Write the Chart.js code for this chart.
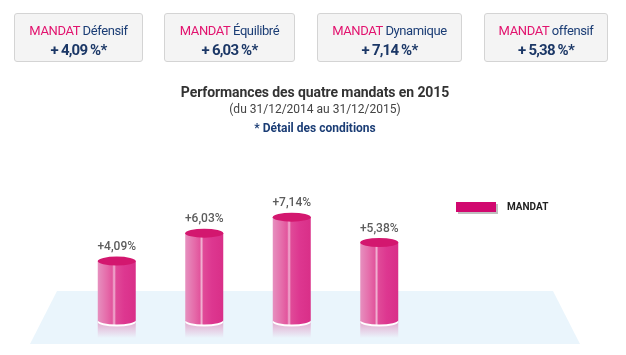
<!DOCTYPE html>
<html><head><meta charset="utf-8">
<script src="https://cdn.jsdelivr.net/npm/chart.js@4"></script>
<style>
html,body{margin:0;padding:0;background:#fff;width:626px;height:355px;overflow:hidden;font-family:Roboto,"Liberation Sans",sans-serif;}
#wrap{position:relative;width:626px;height:355px;}
canvas{position:absolute;left:0;top:0;}
.box{position:absolute;top:13px;height:47px;background:#f4f4f4;border:1px solid #d4d4d4;border-radius:3px;text-align:center;box-sizing:content-box;}
.box .l1{position:absolute;left:0;right:0;top:9px;font-size:13px;letter-spacing:-0.4px;color:#1b3d75;line-height:16px;}
.box .l1 b{font-weight:400;color:#e2136e;}
.box .l2{position:absolute;left:0;right:0;top:27px;font-size:15px;letter-spacing:-0.8px;font-weight:700;color:#1b3766;line-height:18px;}
.t{position:absolute;left:0;width:630px;text-align:center;}
#t1{top:84px;font-size:14px;letter-spacing:-0.1px;font-weight:700;color:#333;}
#t2{top:102px;font-size:12px;color:#444;}
#t3{top:121px;font-size:12px;font-weight:700;color:#1b3d75;}
</style></head>
<body><div id="wrap">
<canvas id="c" width="626" height="355"></canvas>
<div id="boxes"></div>
<div class="t" id="t1">Performances des quatre mandats en 2015</div>
<div class="t" id="t2">(du 31/12/2014 au 31/12/2015)</div>
<div class="t" id="t3">* Détail des conditions</div>
</div>
<script>
const categories = ["Défensif", "Équilibré", "Dynamique", "offensif"];
const values = [4.09, 6.03, 7.14, 5.38];
const valueLabels = ["+4,09%", "+6,03%", "+7,14%", "+5,38%"];
const boxValues = ["+ 4,09 %*", "+ 6,03 %*", "+ 7,14 %*", "+ 5,38 %*"];
const seriesName = "MANDAT";

// boxes
const boxGeom = [[14,127],[164,129],[317,143],[484,122]];
const bx = document.getElementById('boxes');
categories.forEach((c,i)=>{
  const d=document.createElement('div');d.className='box';
  d.style.left=boxGeom[i][0]+'px';d.style.width=boxGeom[i][1]+'px';
  d.innerHTML='<div class="l1"><b>'+seriesName+'</b> '+c+'</div><div class="l2">'+boxValues[i]+'</div>';
  bx.appendChild(d);
});

const cylPlugin = {
  id:'cyl',
  beforeDatasetsDraw(chart){
    const ctx=chart.ctx, a=chart.chartArea;
    // floor
    ctx.save();
    ctx.fillStyle='#eaf5fc';
    ctx.beginPath();
    ctx.moveTo(a.left-16, a.bottom-29);
    ctx.lineTo(a.right+130, a.bottom-29);
    ctx.lineTo(a.right+157, a.bottom+24);
    ctx.lineTo(a.left-43, a.bottom+24);
    ctx.closePath();ctx.fill();
    ctx.restore();
  },
  afterDatasetsDraw(chart){
    const ctx=chart.ctx;
    const meta=chart.getDatasetMeta(0);
    meta.data.forEach((bar,i)=>{
      const w=bar.width, x0=bar.x-w/2, x1=bar.x+w/2, top=bar.y, base=bar.base, ry=4.5, rx=w/2;
      ctx.save();
      // reflection
      let rg=ctx.createLinearGradient(0,base,0,base+18);
      rg.addColorStop(0,'rgba(214,60,140,0.45)');
      rg.addColorStop(1,'rgba(214,60,140,0)');
      ctx.fillStyle=rg;
      ctx.fillRect(x0,base,w,18);
      // white rim
      ctx.fillStyle='#ffffff';
      ctx.beginPath();ctx.ellipse(bar.x,base+2,rx,ry,0,0,Math.PI*2);ctx.fill();
      // body
      let g=ctx.createLinearGradient(x0,0,x1,0);
      g.addColorStop(0,'#e690bf');
      g.addColorStop(0.25,'#e56aa9');
      g.addColorStop(0.38,'#e2559d');
      g.addColorStop(0.43,'#f1b3d3');
      g.addColorStop(0.48,'#e04a98');
      g.addColorStop(0.7,'#dd3790');
      g.addColorStop(1,'#d92f88');
      ctx.fillStyle=g;
      ctx.beginPath();
      ctx.moveTo(x0,top);
      ctx.lineTo(x0,base);
      ctx.ellipse(bar.x,base,rx,ry,0,Math.PI,0,true);
      ctx.lineTo(x1,top);
      ctx.closePath();ctx.fill();
      // top
      ctx.fillStyle='#d3176f';
      ctx.beginPath();ctx.ellipse(bar.x,top,rx,ry,0,0,Math.PI*2);ctx.fill();
      // label
      ctx.fillStyle='#5c5c5c';
      ctx.font='500 12px Roboto, sans-serif';
      ctx.textAlign='center';ctx.textBaseline='middle';
      ctx.fillText(valueLabels[i], bar.x, top-14);
      ctx.restore();
    });
    // legend
    const a=chart.chartArea;
    ctx.save();
    const lx=a.right+33, ly=202;
    ctx.fillStyle='rgba(0,0,0,0.25)';
    ctx.fillRect(lx+2,ly+2,40,10);
    ctx.fillStyle='#d1086f';
    ctx.fillRect(lx,ly,40,10);
    ctx.fillStyle='#222';
    ctx.font='700 10px Roboto, sans-serif';
    ctx.textAlign='left';ctx.textBaseline='middle';
    ctx.fillText(chart.data.datasets[0].label, lx+51, ly+5.5);
    ctx.restore();
  }
};

new Chart(document.getElementById('c'),{
  type:'bar',
  data:{labels:categories,datasets:[{label:seriesName,data:values,backgroundColor:'rgba(0,0,0,0)',barThickness:38}]},
  options:{
    responsive:false,animation:false,
    layout:{padding:{left:73,right:203,top:176,bottom:35}},
    plugins:{legend:{display:false},tooltip:{enabled:false}},
    scales:{x:{display:false},y:{display:false,min:0,max:10}}
  },
  plugins:[cylPlugin]
});
</script>
</body></html>
